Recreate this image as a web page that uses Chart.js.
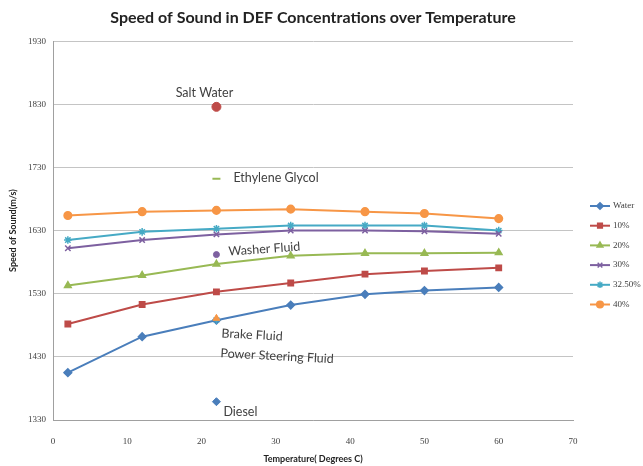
<!DOCTYPE html>
<html>
<head>
<meta charset="utf-8">
<script src="https://cdn.jsdelivr.net/npm/chart.js@4/dist/chart.umd.min.js"></script>
<style>
  html, body { margin: 0; padding: 0; background: #fff; }
  #wrap { width: 643px; height: 466px; }
</style>
</head>
<body>
<div id="wrap"><canvas id="soundchart"></canvas></div>
<script>
// temperatures (deg C) the DEF concentrations were measured at
var temps = [2, 12, 22, 32, 42, 50, 60];

var seriesNames = ["Water", "10%", "20%", "30%", "32.50%", "40%"];
var water  = [1405, 1462, 1488, 1512, 1529, 1535, 1540];
var def10  = [1482, 1513, 1533, 1547, 1561, 1566, 1571];
var def20  = [1543, 1559, 1577, 1590, 1594, 1594, 1595];
var def30  = [1602, 1615, 1624, 1630, 1630, 1629, 1625];
var def325 = [1615, 1628, 1633, 1638, 1638, 1638, 1630];
var def40  = [1654, 1660, 1662, 1664, 1660, 1657, 1649];
var seriesValues = [water, def10, def20, def30, def325, def40];

var seriesColors = ["#4A7EBB", "#BE4B48", "#98B954", "#7D60A0", "#46AAC5", "#F79646"];
var seriesMarkers = ["rectRot", "rect", "triangle", "crossRot", "star", "circle"];

// other fluids, all measured at 22 C
var fluidNames  = ["Salt Water", "Ethylene Glycol", "Washer Fluid", "Brake Fluid", "Power Steering Fluid", "Diesel"];
var fluidTemp   = 22;
var fluidValues = [1826, 1712, 1592, 1491, 1488, 1359];
var fluidColors = ["#BE4B48", "#98B954", "#7D60A0", "#F79646", "#46AAC5", "#4A7EBB"];
var fluidMarkers = ["circle", "line", "circle", "triangle", "star", "rectRot"];

var yMin = 1330, yMax = 1930, yStep = 100;
var xMin = 0, xMax = 70, xStep = 10;

var datasets = [];
for (var i = 0; i < seriesNames.length; i++) {
  datasets.push({
    label: seriesNames[i],
    data: temps.map(function (t, j) { return { x: t, y: seriesValues[i][j] }; }),
    showLine: true,
    borderColor: seriesColors[i],
    backgroundColor: seriesColors[i],
    borderWidth: 2,
    pointStyle: seriesMarkers[i],
    pointRadius: 3.8,
    pointBorderWidth: 1.5,
    tension: 0,
    order: 1
  });
}
for (var k = 0; k < fluidNames.length; k++) {
  datasets.push({
    label: fluidNames[k],
    data: [{ x: fluidTemp, y: fluidValues[k] }],
    showLine: false,
    borderColor: fluidColors[k],
    backgroundColor: fluidColors[k],
    pointStyle: fluidMarkers[k],
    pointRadius: k == 0 ? 4.5 : (k == 2 ? 3 : 4),
    pointBorderWidth: k == 1 ? 2 : 1,
    order: 0
  });
}

// label placement next to each fluid point (pixel offsets, rotation in degrees)
var fluidLabelPos = [
  { dx: -12, dy: -14, align: "center", rot: 0 },
  { dx: 17, dy: -1, align: "left", rot: 0 },
  { dx: 12, dy: -3, align: "left", rot: -4 },
  { dx: 5, dy: 15, align: "left", rot: 3 },
  { dx: 4, dy: 33, align: "left", rot: 3 },
  { dx: 7, dy: 10, align: "left", rot: 0 }
];

var fluidLabels = {
  id: "fluidLabels",
  afterDatasetsDraw: function (chart) {
    var ctx = chart.ctx;
    var xs = chart.scales.x, ys = chart.scales.y;
    ctx.save();
    ctx.font = '12.5px "Lato"';
    ctx.fillStyle = "#404040";
    ctx.textBaseline = "middle";
    for (var i = 0; i < fluidNames.length; i++) {
      var p = fluidLabelPos[i];
      var px = xs.getPixelForValue(fluidTemp) + p.dx;
      var py = ys.getPixelForValue(fluidValues[i]) + p.dy;
      ctx.save();
      ctx.translate(px, py);
      ctx.rotate(p.rot * Math.PI / 180);
      ctx.textAlign = p.align;
      ctx.fillText(fluidNames[i], 0, 0);
      ctx.restore();
    }
    ctx.restore();
  }
};

var sideLegend = {
  id: "sideLegend",
  afterDraw: function (chart) {
    var ctx = chart.ctx;
    var x0 = chart.chartArea.right + 17;
    var y0 = 206;
    ctx.save();
    ctx.font = '9px "Liberation Serif"';
    ctx.textBaseline = "middle";
    ctx.textAlign = "left";
    for (var i = 0; i < seriesNames.length; i++) {
      var y = y0 + i * 19.7;
      ctx.strokeStyle = seriesColors[i];
      ctx.fillStyle = seriesColors[i];
      ctx.lineWidth = 2;
      ctx.beginPath();
      ctx.moveTo(x0, y);
      ctx.lineTo(x0 + 20, y);
      ctx.stroke();
      ctx.lineWidth = 1.5;
      Chart.helpers.drawPoint(ctx, { pointStyle: seriesMarkers[i], radius: 3.3, borderWidth: 1.5, rotation: 0 }, x0 + 10, y);
      ctx.fillStyle = "#404040";
      ctx.fillText(seriesNames[i], x0 + 23, y);
    }
    ctx.restore();
  }
};

new Chart("soundchart", {
  type: "scatter",
  data: { datasets: datasets },
  plugins: [fluidLabels, sideLegend],
  options: {
    responsive: true,
    maintainAspectRatio: false,
    animation: false,
    layout: { padding: { left: 0, right: 70, top: 0, bottom: 0 } },
    plugins: {
      legend: { display: false },
      tooltip: { enabled: false },
      title: {
        display: true,
        fullSize: false,
        text: "Speed of Sound in DEF Concentrations over Temperature",
        color: "#222",
        font: { family: "Lato", size: 16, weight: "bold" },
        padding: { top: 8, bottom: 14 }
      }
    },
    scales: {
      x: {
        type: "linear",
        min: xMin, max: xMax,
        afterFit: function (s) { s.height = 46; },
        ticks: { stepSize: xStep, color: "#404040", font: { family: "Liberation Serif", size: 9 }, padding: 8,
                 callback: function (v) { return String(v); } },
        grid: { display: false },
        border: { display: true, color: "#A0A0A0" },
        title: { display: true, text: "Temperature( Degrees C)", color: "#222",
                 font: { family: "Lato", size: 9, weight: "bold" }, padding: { top: 4, bottom: 2 } }
      },
      y: {
        min: yMin, max: yMax,
        afterFit: function (s) { s.width = 53; },
        ticks: { stepSize: yStep, color: "#404040", font: { family: "Liberation Serif", size: 9 }, padding: 7,
                 callback: function (v) { return String(v); } },
        grid: { color: "#C4C4C4", lineWidth: 1, drawTicks: false },
        border: { display: true, color: "#A0A0A0" },
        title: { display: true, text: "Speed of Sound(m/s)", color: "#222",
                 font: { family: "Lato", size: 9, weight: "bold" }, padding: { top: 8, bottom: 2 } }
      }
    }
  }
});
</script>
</body>
</html>
